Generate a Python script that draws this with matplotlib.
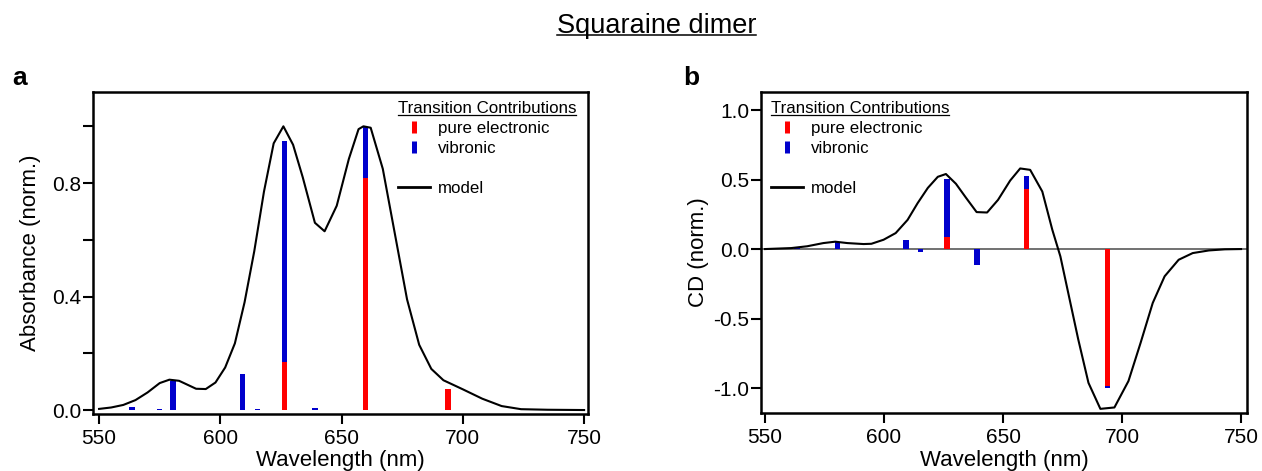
import numpy as np
import matplotlib
matplotlib.use("Agg")
import matplotlib.pyplot as plt
from matplotlib.lines import Line2D
from matplotlib.transforms import IdentityTransform

plt.rcParams['font.family'] = ['Liberation Sans', 'DejaVu Sans']
plt.rcParams['axes.unicode_minus'] = False

# transition (stick) positions, nm
trans_wl = [563.5, 575.0, 580.4, 609.2, 615.4, 626.4, 639.0, 659.8, 693.8]
# absorbance contributions
abs_elec = [0.0, 0.0, 0.0, 0.0, 0.0, 0.169, 0.0, 0.818, 0.074]
abs_vib = [0.012, 0.004, 0.103, 0.126, 0.002, 0.781, 0.007, 0.180, 0.0]
# CD contributions
cd_elec = [0.0, 0.0, 0.0, 0.0, 0.0, 0.090, 0.0, 0.434, -0.987]
cd_vib = [0.004, 0.0, 0.050, 0.067, -0.024, 0.413, -0.113, 0.093, -0.012]

# model absorbance spectrum
abs_wl = [550, 555, 560, 565, 570, 575, 579, 583, 587, 590, 594, 598, 602, 606,
          610, 614, 618, 622, 626, 630, 634, 639, 643, 648, 653, 657, 659, 662,
          667, 672, 677, 682, 687, 692, 700, 708, 716, 724, 735, 750]
abs_model = [0.004, 0.009, 0.018, 0.035, 0.062, 0.095, 0.107, 0.103, 0.087, 0.075,
             0.074, 0.097, 0.15, 0.235, 0.38, 0.56, 0.77, 0.94, 1.0, 0.935, 0.82,
             0.66, 0.63, 0.72, 0.885, 0.99, 1.0, 0.995, 0.85, 0.62, 0.39, 0.23,
             0.145, 0.105, 0.073, 0.04, 0.014, 0.003, 0.001, 0.0]

# model CD spectrum
cd_wl = [550, 561, 567.7, 574.5, 579.5, 584.6, 591.4, 594.7, 599.8, 604.9, 609.9,
         614.1, 618.4, 622.6, 626, 630.2, 634.4, 638.9, 643.3, 647.9, 653, 657.2,
         661.4, 666.5, 670.7, 674.1, 677.4, 681.6, 685.9, 690.9, 696.8, 702.7,
         707.8, 712.9, 717.9, 723.8, 729.7, 736.5, 743.2, 750]
cd_model = [0.0, 0.007, 0.02, 0.043, 0.053, 0.043, 0.036, 0.038, 0.067, 0.115,
            0.21, 0.33, 0.44, 0.52, 0.54, 0.47, 0.37, 0.266, 0.263, 0.354, 0.493,
            0.58, 0.57, 0.414, 0.139, -0.053, -0.316, -0.65, -0.963, -1.15,
            -1.14, -0.95, -0.675, -0.388, -0.196, -0.077, -0.029, -0.01, -0.002, 0.0]

RED = '#ff0000'
BLUE = '#0000cc'

fig = plt.figure(figsize=(12.62, 4.71), dpi=100)
ax1 = fig.add_axes([0.0737, 0.1210, 0.3922, 0.6837])
ax2 = fig.add_axes([0.6030, 0.1231, 0.3851, 0.6815])


def style(ax):
    for s in ax.spines.values():
        s.set_linewidth(1.8)
    ax.tick_params(direction='out', length=7, width=1.5, labelsize=15,
                   top=False, right=False)
    ax.tick_params(axis='x', pad=4)
    ax.tick_params(axis='y', pad=1.5)


def sticks(ax, elec, vib):
    ax.bar(trans_wl, elec, width=2.3, color=RED, zorder=2)
    ax.bar(trans_wl, vib, width=2.3, bottom=elec, color=BLUE, zorder=2)


def add_legend(ax, x):
    handles = [Line2D([], [], color=RED, marker='|', ls='none', ms=8, mew=3.6),
               Line2D([], [], color=BLUE, marker='|', ls='none', ms=8, mew=3.6),
               Line2D([], [], ls='none'),
               Line2D([], [], color='black', lw=2)]
    labels = ['pure electronic', 'vibronic', ' ', 'model']
    leg = ax.legend(handles, labels, loc='upper left', bbox_to_anchor=(x, 0.971),
                    frameon=False, fontsize=12.2, title='Transition Contributions',
                    title_fontsize=12.2, alignment='left', handlelength=1.9,
                    handletextpad=0.45, labelspacing=0.29, borderpad=0,
                    borderaxespad=0)
    return leg


# panel a
sticks(ax1, abs_elec, abs_vib)
ax1.plot(abs_wl, abs_model, color='black', lw=1.5, zorder=3)
ax1.set_xlim(547.5, 751.6)
ax1.set_ylim(-0.014, 1.121)
ax1.set_xticks([550, 600, 650, 700, 750])
ax1.set_yticks([0, 0.2, 0.4, 0.6, 0.8, 1.0])
ax1.set_yticklabels(['0.0', '', '0.4', '', '0.8', ''])
style(ax1)
ax1.set_xlabel('Wavelength (nm)', fontsize=16)
ax1.set_ylabel('Absorbance (norm.)', fontsize=16)
ax1.xaxis.set_label_coords(0.5, -0.112)
ax1.yaxis.set_label_coords(-0.105, 0.5)
leg1 = add_legend(ax1, 0.616)

# panel b
ax2.axhline(0, color='0.35', lw=1.2, zorder=1)
sticks(ax2, cd_elec, cd_vib)
ax2.plot(cd_wl, cd_model, color='black', lw=1.5, zorder=3)
ax2.set_xlim(548.3, 752.5)
ax2.set_ylim(-1.18, 1.13)
ax2.set_xticks([550, 600, 650, 700, 750])
ax2.set_yticks([1.0, 0.5, 0.0, -0.5, -1.0])
ax2.set_yticklabels(['1.0', '0.5', '0.0', '-0.5', '-1.0'])
style(ax2)
ax2.set_xlabel('Wavelength (nm)', fontsize=16)
ax2.set_ylabel('CD (norm.)', fontsize=16)
ax2.xaxis.set_label_coords(0.5, -0.115)
ax2.yaxis.set_label_coords(-0.107, 0.5)
leg2 = add_legend(ax2, 0.0206)

# panel letters and title
fig.text(12 / 1262, 1 - 85 / 471, 'a', fontsize=19, fontweight='bold',
         ha='left', va='baseline')
fig.text(683 / 1262, 1 - 85 / 471, 'b', fontsize=19, fontweight='bold',
         ha='left', va='baseline')
title = fig.text(656.5 / 1262, 1 - 33 / 471, 'Squaraine dimer', fontsize=19.5,
                 ha='center', va='baseline')

# underlines
fig.canvas.draw()


def underline(txt, fs, lw):
    bb = txt.get_window_extent()
    y = bb.y0 + 0.212 * fs * 100 / 72 - 2
    fig.add_artist(Line2D([bb.x0, bb.x1], [y, y], color=txt.get_color(),
                          lw=lw, transform=IdentityTransform()))


underline(title, 19.5, 1.1)
underline(leg1.get_title(), 12.2, 0.9)
underline(leg2.get_title(), 12.2, 0.9)

fig.savefig('out.png', dpi=100)
